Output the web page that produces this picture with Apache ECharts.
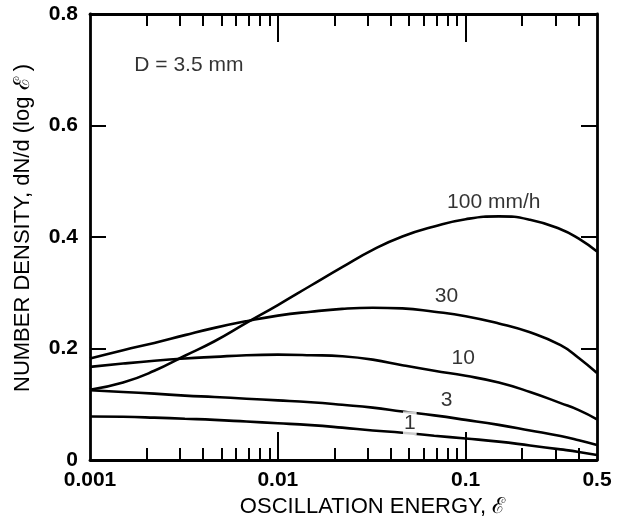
<!DOCTYPE html>
<html>
<head>
<meta charset="utf-8">
<script src="https://cdn.jsdelivr.net/npm/echarts@6/dist/echarts.min.js"></script>
<style>
html,body{margin:0;padding:0;background:#fff;}
#chart{width:623px;height:527px;}
</style>
</head>
<body>
<div id="chart"></div>
<script>
// Oscillation energy sample points (log axis, roughly even log spacing)
var energy  = [0.001, 0.0015, 0.0022, 0.0032, 0.0046, 0.0068, 0.01, 0.015, 0.022, 0.032, 0.046, 0.068, 0.1, 0.15, 0.22, 0.32, 0.4, 0.5];
// Number density curves for rain rates (mm/h)
var rate100 = [0.126, 0.139, 0.160, 0.187, 0.213, 0.246, 0.278, 0.313, 0.346, 0.377, 0.401, 0.419, 0.432, 0.437, 0.431, 0.414, 0.397, 0.374];
var rate30  = [0.182, 0.197, 0.210, 0.224, 0.237, 0.249, 0.259, 0.266, 0.271, 0.273, 0.272, 0.266, 0.258, 0.245, 0.229, 0.206, 0.183, 0.156];
var rate10  = [0.167, 0.173, 0.178, 0.182, 0.185, 0.188, 0.189, 0.188, 0.186, 0.180, 0.170, 0.160, 0.151, 0.139, 0.122, 0.102, 0.0895, 0.073];
var rate3   = [0.125, 0.122, 0.119, 0.1155, 0.113, 0.110, 0.107, 0.1035, 0.099, 0.094, 0.087, 0.080, 0.072, 0.063, 0.053, 0.043, 0.0355, 0.027];
var rate1   = [0.078, 0.0775, 0.076, 0.074, 0.072, 0.069, 0.066, 0.0625, 0.058, 0.053, 0.049, 0.0435, 0.0385, 0.033, 0.026, 0.019, 0.0145, 0.009];
// Tick values
var xLabelTicks = [0.001, 0.01, 0.1, 0.5];
var xMajorTicks = [0.01, 0.1];
var xMinorTicks = [0.002, 0.003, 0.004, 0.005, 0.006, 0.007, 0.008, 0.009,
                   0.02, 0.03, 0.04, 0.05, 0.06, 0.07, 0.08, 0.09,
                   0.2, 0.3, 0.4];
var yTickValues = [0.2, 0.4, 0.6];
// Annotations: text, energy, density
var annotText = ['100 mm/h', '30', '10', '3', '1', 'D = 3.5 mm'];
var annotX    = [0.141, 0.079, 0.097, 0.079, 0.0504, 0.00336];
var annotY    = [0.463, 0.293, 0.182, 0.1076, 0.0658, 0.709];

function pairs(xs, ys){ return xs.map(function(x,i){ return [x, ys[i]]; }); }

var FONT = 'Liberation Sans';
var lineStyle = {color:'#000', width:2.6};
function curve(name, vals){
  return {type:'line', name:name, data:pairs(energy, vals), smooth:0.5, symbol:'none',
    lineStyle:lineStyle, xAxisIndex:0, yAxisIndex:0, z:2, silent:true};
}
function logAxis(pos, ticks, len, showLine, labels){
  return {type:'log', logBase:10, min:0.001, max:0.5, position:pos, gridIndex:0,
    axisLine:{show:showLine, onZero:false, lineStyle:{color:'#000', width:2.8}},
    axisTick:{show:true, inside:true, length:len, customValues:ticks, lineStyle:{color:'#000', width:2}},
    minorTick:{show:false}, splitLine:{show:false},
    axisLabel: labels ? {show:true, customValues:xLabelTicks, margin:10, color:'#000',
      fontSize:21, fontWeight:'bold', fontFamily:FONT, formatter:function(v){ return String(+v.toPrecision(3)); }} : {show:false}
  };
}
var xAxes = [
  logAxis('bottom', xMinorTicks, 12, true, true),
  logAxis('bottom', xMajorTicks, 28, false, false),
  logAxis('top', xMinorTicks, 12, true, false),
  logAxis('top', xMajorTicks, 28, false, false)
];
xAxes[0].name = 'OSCILLATION ENERGY, ℰ';
xAxes[0].nameLocation = 'middle';
xAxes[0].nameGap = 27;
xAxes[0].nameTextStyle = {color:'#000', fontSize:22, fontFamily:FONT, padding:[0,0,0,58]};

var option = {
  animation:false,
  backgroundColor:'#fff',
  grid:{left:90, right:26, top:14, bottom:67, containLabel:false},
  xAxis: xAxes,
  yAxis:[
    {type:'value', min:0, max:0.8, interval:0.2, position:'left',
     name:'NUMBER DENSITY, dN/d (log ℰ )', nameLocation:'middle', nameGap:56,
     nameTextStyle:{color:'#000', fontSize:22, fontFamily:FONT, padding:[0,0,0,18]},
     axisLine:{show:true, onZero:false, lineStyle:{color:'#000', width:2.8}},
     axisTick:{show:true, inside:true, length:16, customValues:yTickValues, lineStyle:{color:'#000', width:2}},
     axisLabel:{show:true, margin:12, color:'#000', fontSize:21, fontWeight:'bold', fontFamily:FONT},
     splitLine:{show:false}},
    {type:'value', min:0, max:0.8, interval:0.2, position:'right',
     axisLine:{show:true, onZero:false, lineStyle:{color:'#000', width:2.8}},
     axisTick:{show:true, inside:true, length:16, customValues:yTickValues, lineStyle:{color:'#000', width:2}},
     axisLabel:{show:false}, splitLine:{show:false}}
  ],
  series:[
    curve('100 mm/h', rate100),
    curve('30', rate30),
    curve('10', rate10),
    curve('3', rate3),
    curve('1', rate1),
    {type:'scatter', xAxisIndex:0, yAxisIndex:0, symbolSize:0, z:5, silent:true,
     itemStyle:{color:'#fff'},
     data: annotText.map(function(t,i){ return {value:[annotX[i], annotY[i]], name:t}; }),
     label:{show:true, position:'inside', formatter:'{b}', color:'#000', fontSize:21, fontFamily:FONT,
       textBorderWidth:0, textBorderColor:'transparent', borderWidth:0,
       backgroundColor:'#fff', padding:[0,1,3,1]}}
  ]
};
var chart = echarts.init(document.getElementById('chart'), null, {renderer:'canvas'});
chart.setOption(option);
</script>
</body>
</html>
